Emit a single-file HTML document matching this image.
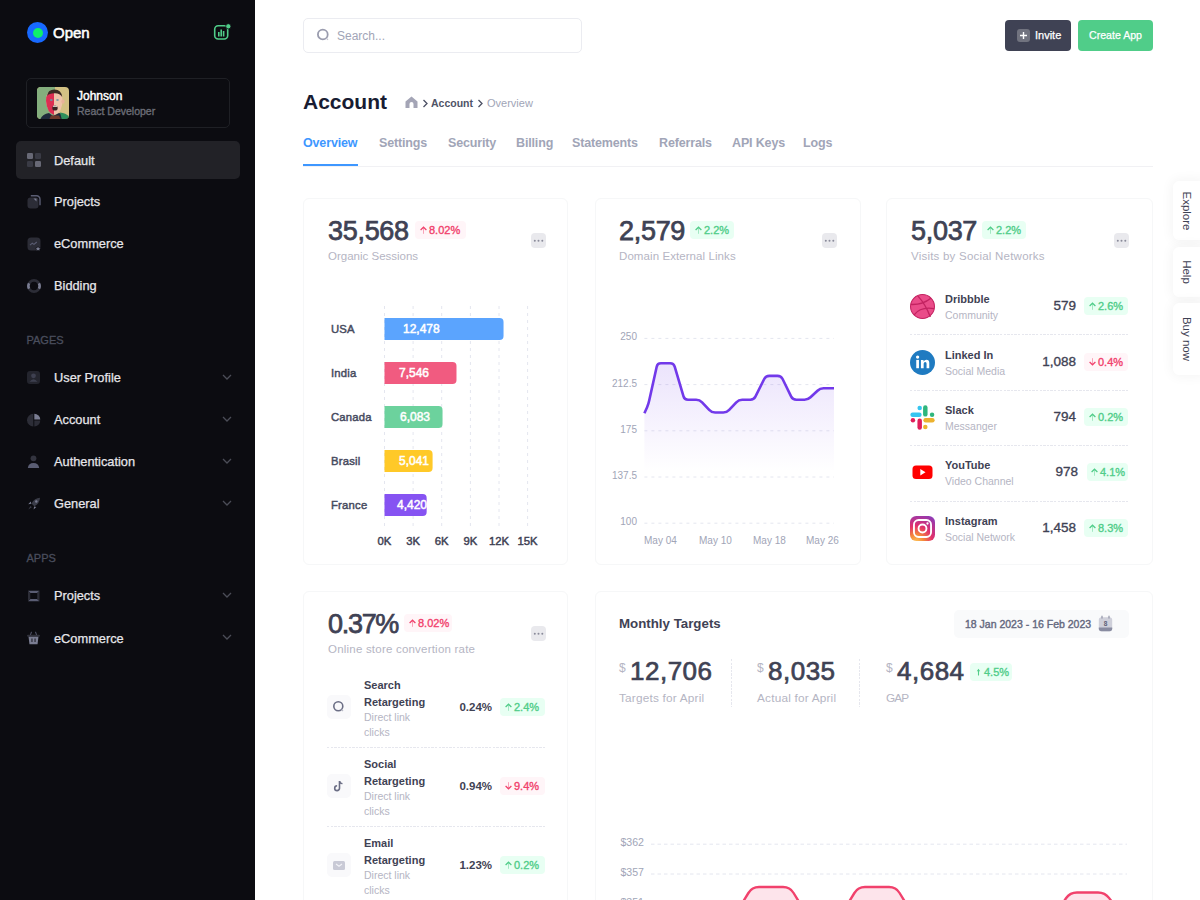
<!DOCTYPE html>
<html><head><meta charset="utf-8">
<style>
*{box-sizing:border-box;margin:0;padding:0}
html,body{width:1200px;height:900px;overflow:hidden;background:#fff;font-family:"Liberation Sans",sans-serif}
.a{position:absolute;white-space:nowrap}
#sb{position:absolute;left:0;top:0;width:255px;height:900px;background:#0c0c11}
.nav{position:absolute;left:54px;font-size:12.8px;color:#e6e6ea;line-height:16px;-webkit-text-stroke:0.25px #e6e6ea}
.ico{position:absolute;left:27px}
.chev{position:absolute;left:222px}
.sec{position:absolute;left:26.5px;font-size:11px;color:#4a4e5d;-webkit-text-stroke:0.3px #4a4e5d}

.tab{position:absolute;top:136px;font-size:12.5px;font-weight:bold;color:#a1a5b7;line-height:15px;letter-spacing:-0.15px}
.ftab{position:absolute;left:1173px;width:30px;background:#fff;border-radius:6px 0 0 6px;box-shadow:0 0 12px 2px rgba(0,0,0,0.045)}
.ftab span{position:absolute;left:50%;top:50%;transform:translate(-50%,-50%) rotate(90deg);font-size:11.5px;color:#3f4254;white-space:nowrap;margin-left:-1px}
.card{position:absolute;border:1px solid #f6f7f8;border-radius:6px;background:#fff}

.big{position:absolute;font-size:27px;font-weight:normal;color:#3f4254;line-height:30px;white-space:nowrap;letter-spacing:-0.3px;-webkit-text-stroke:0.75px #3f4254}
.lbl{position:absolute;font-size:11.5px;color:#b5b5c3;line-height:14px;white-space:nowrap}
</style></head><body>
<div id="sb">
  <!-- logo -->
  <div class="a" style="left:27px;top:22px;width:21px;height:21px;border-radius:50%;background:#1769ff"></div>
  <div class="a" style="left:33px;top:28px;width:10px;height:10px;border-radius:50%;background:#0fef6b"></div>
  <div class="a" style="left:53px;top:24px;font-size:15px;font-weight:normal;color:#fff;line-height:18px;-webkit-text-stroke:0.55px #fff">Open</div>
  <svg class="a" style="left:212px;top:22px" width="20" height="20" viewBox="0 0 20 20">
    <rect x="2.7" y="3.7" width="13" height="13.3" rx="3.5" fill="none" stroke="#50cd89" stroke-width="1.6"/>
    <rect x="6" y="10" width="1.6" height="4.5" fill="#50cd89"/>
    <rect x="8.4" y="7.5" width="1.6" height="7" fill="#50cd89"/>
    <rect x="10.8" y="9" width="1.6" height="5.5" fill="#50cd89"/>
    <circle cx="16.3" cy="4.3" r="2.6" fill="#50cd89" stroke="#0c0c11" stroke-width="0.8"/>
  </svg>
  <!-- user card -->
  <div class="a" style="left:26px;top:78px;width:203.5px;height:50px;border:1px solid #1f2025;border-radius:5px"></div>
  <svg class="a" style="left:37px;top:87px" width="32" height="32" viewBox="0 0 32 32">
    <defs><clipPath id="av"><rect width="32" height="32" rx="4"/></clipPath></defs>
    <g clip-path="url(#av)">
      <rect width="32" height="32" fill="#d3c184"/>
      <rect width="18" height="32" fill="#84ae7d"/>
      <path d="M9 14 Q9 3 17 3 Q25 3 25.5 13 Q25.5 25 18 28 Q10 26 9 14Z" fill="#eec3aa"/>
      <path d="M9 14 Q9 4 17 3.5 L17 28 Q10 26 9 14Z" fill="#dc2d52"/>
      <ellipse cx="26" cy="14.5" rx="1.6" ry="2.3" fill="#e8b39a"/>
      <path d="M10 9 Q11 2.5 17.5 2.6 Q24.5 3 25.2 10 Q23 6 17.5 6.2 Q12 6.3 10 9Z" fill="#3b2c25"/>
      <ellipse cx="14.3" cy="13" rx="1.3" ry="1" fill="#6e8ea0"/><ellipse cx="20.5" cy="13" rx="1.3" ry="1" fill="#7b98a6"/>
      <ellipse cx="18" cy="21" rx="2.7" ry="2.6" fill="#3a2424"/>
      <rect x="16" y="18.6" width="4" height="1.3" fill="#d9d4cc"/>
      <path d="M3 33 Q5 27 12 26 L16 29 L22 26 Q29 27 33 33Z" fill="#1f2a3c"/>
      <path d="M23 25.5 Q30 26 33 31 L33 33 L25 33Z" fill="#2f8f5c"/>
      <path d="M12 33 L14 28.5 L22 28.5 L24 33Z" fill="#6e3a2c"/>
    </g>
  </svg>
  <div class="a" style="left:77px;top:88.5px;font-size:12px;font-weight:normal;color:#fff;line-height:14px;-webkit-text-stroke:0.45px #fff">Johnson</div>
  <div class="a" style="left:77px;top:105px;font-size:10.5px;font-weight:normal;color:#6b6c76;line-height:13px;-webkit-text-stroke:0.35px #6b6c76">React Developer</div>

  <!-- active -->
  <div class="a" style="left:16px;top:141px;width:223.5px;height:38px;border-radius:5px;background:#222227"></div>
  <svg class="ico" style="top:153px" width="14" height="14" viewBox="0 0 14 14"><rect x="0" y="0" width="6" height="6" rx="1.2" fill="#686976"/><rect x="8" y="0" width="6" height="6" rx="1.2" fill="#3a3b45"/><rect x="0" y="8" width="6" height="6" rx="1.2" fill="#3a3b45"/><rect x="8" y="8" width="6" height="6" rx="1.2" fill="#686976"/></svg>
  <div class="nav" style="top:153px">Default</div>

  <svg class="ico" style="top:195px" width="14" height="14" viewBox="0 0 14 14"><rect x="0.5" y="2.5" width="11" height="11" rx="3" fill="#2c2d37"/><path d="M3.8 0.8 H9.5 a3.5 3.5 0 0 1 3.5 3.5 V10.2" fill="none" stroke="#5a5d73" stroke-width="1.4"/><path d="M6.5 3.5 H9.5 V6.5Z" fill="#7a7d92"/></svg>
  <div class="nav" style="top:194px">Projects</div>

  <svg class="ico" style="top:237px" width="14" height="14" viewBox="0 0 14 14"><rect x="0.5" y="0.5" width="13" height="13" rx="3.5" fill="#2c2d37"/><path d="M3 8.2 L5.3 6.2 L7 7.4 L9.8 5" fill="none" stroke="#5a5d73" stroke-width="1.1"/><path d="M11 9.2 L12.2 11 L13.8 11.3 L12.6 12.6 L12.8 14 L11 13.3 L9.2 14 L9.5 12.6 L8.3 11.3 L9.9 11Z" fill="#7a7d92" stroke="#0c0c11" stroke-width="0.6"/></svg>
  <div class="nav" style="top:235.5px">eCommerce</div>

  <svg class="ico" style="top:279px" width="14" height="14" viewBox="0 0 14 14"><circle cx="7" cy="7" r="5.6" fill="none" stroke="#2c2d37" stroke-width="2.6"/><path d="M2.1 4.3 A5.6 5.6 0 0 0 2.1 9.7 M11.9 4.3 A5.6 5.6 0 0 1 11.9 9.7" fill="none" stroke="#7a7d92" stroke-width="2.6"/></svg>
  <div class="nav" style="top:277.5px">Bidding</div>

  <div class="sec" style="top:334px">PAGES</div>

  <svg class="ico" style="top:371px" width="14" height="14" viewBox="0 0 14 14"><rect x="0" y="0" width="13" height="13" rx="3" fill="#24252e"/><circle cx="6.5" cy="4.8" r="2.4" fill="#3e4050"/><path d="M2.5 10.8 Q6.5 5.5 10.5 10.8Z" fill="#3e4050"/></svg>
  <div class="nav" style="top:370px">User Profile</div>
  <svg class="chev" style="top:373px" width="10" height="8" viewBox="0 0 10 8"><path d="M1 2 L5 6 L9 2" fill="none" stroke="#4b4d57" stroke-width="1.3"/></svg>

  <svg class="ico" style="top:413px" width="14" height="14" viewBox="0 0 14 14"><path d="M6.3 0.8 A6.3 6.3 0 1 0 6.3 13.4Z" fill="#2c2d37"/><path d="M7.3 0.8 A6 6 0 0 1 13.3 6.6 H7.3Z" fill="#7a7d92"/><path d="M7.3 7.6 H13.3 A6 6 0 0 1 7.3 13.4Z" fill="#2c2d37"/></svg>
  <div class="nav" style="top:412px">Account</div>
  <svg class="chev" style="top:415px" width="10" height="8" viewBox="0 0 10 8"><path d="M1 2 L5 6 L9 2" fill="none" stroke="#4b4d57" stroke-width="1.3"/></svg>

  <svg class="ico" style="top:455px" width="14" height="14" viewBox="0 0 14 14"><circle cx="6.5" cy="3.3" r="2.9" fill="#33343f"/><path d="M0.8 13 Q1.5 8 6.5 8 Q11.5 8 12.2 13Z" fill="#5a5d73"/></svg>
  <div class="nav" style="top:453.5px">Authentication</div>
  <svg class="chev" style="top:457px" width="10" height="8" viewBox="0 0 10 8"><path d="M1 2 L5 6 L9 2" fill="none" stroke="#4b4d57" stroke-width="1.3"/></svg>

  <svg class="ico" style="top:497px" width="14" height="14" viewBox="0 0 14 14"><path d="M13 0.8 Q7.5 1 4.5 6.5 L7.3 9.3 Q12.8 6.5 13 0.8Z" fill="#3a3c48"/><circle cx="9.3" cy="4.5" r="1.2" fill="#7a7d92"/><path d="M4.3 6.7 L1.2 7.2 L3.8 4.5Z" fill="#7a7d92"/><path d="M7.1 9.5 L6.6 12.6 L9.3 10Z" fill="#7a7d92"/><path d="M3.5 9 L1.3 12.5 L4.8 10.3Z" fill="#3a3c48"/></svg>
  <div class="nav" style="top:495.5px">General</div>
  <svg class="chev" style="top:499px" width="10" height="8" viewBox="0 0 10 8"><path d="M1 2 L5 6 L9 2" fill="none" stroke="#4b4d57" stroke-width="1.3"/></svg>

  <div class="sec" style="top:552px">APPS</div>

  <svg class="ico" style="top:589px" width="14" height="14" viewBox="0 0 14 14"><path d="M1 1.8 H12.5 L10.2 4 H3.3Z" fill="#5a5d73"/><path d="M1 12.2 H12.5 L10.2 10 H3.3Z" fill="#5a5d73"/><path d="M1 1.8 L3.3 4 V10 L1 12.2Z" fill="#2c2d37"/><path d="M12.5 1.8 L10.2 4 V10 L12.5 12.2Z" fill="#2c2d37"/></svg>
  <div class="nav" style="top:588px">Projects</div>
  <svg class="chev" style="top:591px" width="10" height="8" viewBox="0 0 10 8"><path d="M1 2 L5 6 L9 2" fill="none" stroke="#4b4d57" stroke-width="1.3"/></svg>

  <svg class="ico" style="top:631px" width="14" height="14" viewBox="0 0 14 14"><path d="M4.5 0.8 L3.3 4.5 M8.5 0.8 L9.7 4.5" stroke="#5a5d73" stroke-width="1"/><rect x="0" y="3.8" width="13" height="2" rx="1" fill="#30313b"/><path d="M1.5 5.8 H11.5 L10.5 13.3 H2.5Z" fill="#7a7d92"/><rect x="4.3" y="7.5" width="1.3" height="3.5" fill="#30313b"/><rect x="7.4" y="7.5" width="1.3" height="3.5" fill="#30313b"/></svg>
  <div class="nav" style="top:631px">eCommerce</div>
  <svg class="chev" style="top:633px" width="10" height="8" viewBox="0 0 10 8"><path d="M1 2 L5 6 L9 2" fill="none" stroke="#4b4d57" stroke-width="1.3"/></svg>
</div>

<div id="main">
  <!-- search -->
  <div class="a" style="left:303px;top:18px;width:279px;height:35px;border:1px solid #ebecf1;border-radius:5px"></div>
  <svg class="a" style="left:316px;top:28px" width="14" height="14" viewBox="0 0 14 14">
    <circle cx="6.8" cy="6.5" r="4.9" fill="none" stroke="#9a9cae" stroke-width="1.8"/>
    <path d="M10.5 10.3 L12 11.8" stroke="#c4c5d0" stroke-width="1.2"/>
  </svg>
  <div class="a" style="left:337px;top:29px;font-size:12px;color:#a1a5b7;line-height:14px">Search...</div>

  <!-- buttons -->
  <div class="a" style="left:1005px;top:20px;width:66px;height:31px;border-radius:4px;background:#3f4254"></div>
  <div class="a" style="left:1017px;top:29px;width:13px;height:13px;border-radius:3px;background:#71737f"></div>
  <svg class="a" style="left:1017px;top:29px" width="13" height="13" viewBox="0 0 13 13"><path d="M6.5 3 V10 M3 6.5 H10" stroke="#fff" stroke-width="1.4"/></svg>
  <div class="a" style="left:1035px;top:29px;font-size:11px;color:#fff;line-height:13px;-webkit-text-stroke:0.25px #fff">Invite</div>
  <div class="a" style="left:1078px;top:20px;width:75px;height:31px;border-radius:4px;background:#50cd89"></div>
  <div class="a" style="left:1089px;top:29px;font-size:10.6px;color:#fff;line-height:13px;-webkit-text-stroke:0.25px #fff">Create App</div>

  <!-- title -->
  <div class="a" style="left:303px;top:90px;font-size:21px;font-weight:bold;color:#181c32;line-height:24px">Account</div>
  <svg class="a" style="left:405px;top:96px" width="13" height="12" viewBox="0 0 13 12">
    <path d="M6.5 0.5 L12.5 5.5 V12 H8.5 V8 a2 2 0 0 0 -4 0 V12 H0.5 V5.5Z" fill="#a4a5b6"/>
  </svg>
  <svg class="a" style="left:422px;top:99px" width="7" height="9" viewBox="0 0 7 9"><path d="M1.5 1 L5 4.5 L1.5 8" fill="none" stroke="#4b5064" stroke-width="1.3"/></svg>
  <div class="a" style="left:431px;top:97px;font-size:10.5px;font-weight:bold;color:#4f5366;line-height:13px">Account</div>
  <svg class="a" style="left:477px;top:99px" width="7" height="9" viewBox="0 0 7 9"><path d="M1.5 1 L5 4.5 L1.5 8" fill="none" stroke="#4b5064" stroke-width="1.3"/></svg>
  <div class="a" style="left:487px;top:97px;font-size:11px;color:#a1a5b7;line-height:13px">Overview</div>

  <!-- tabs -->
  <div class="a" style="left:303px;top:166px;width:850px;height:1px;background:#f1f1f4"></div>
  <div class="a" style="left:303px;top:164px;width:55px;height:2px;background:#3e97ff"></div>
  <div class="tab" style="left:303px;color:#3e97ff">Overview</div>
  <div class="tab" style="left:379px">Settings</div>
  <div class="tab" style="left:448px">Security</div>
  <div class="tab" style="left:516px">Billing</div>
  <div class="tab" style="left:572px">Statements</div>
  <div class="tab" style="left:659px">Referrals</div>
  <div class="tab" style="left:732px">API Keys</div>
  <div class="tab" style="left:803px">Logs</div>

  <!-- floating tabs -->
  <div class="ftab" style="top:181px;height:59px"><span>Explore</span></div>
  <div class="ftab" style="top:247px;height:50px"><span>Help</span></div>
  <div class="ftab" style="top:303px;height:72px"><span>Buy now</span></div>

  <!-- cards -->
  <div class="card" style="left:303px;top:198px;width:265px;height:367px"></div>
  <div class="card" style="left:595px;top:198px;width:266px;height:367px"></div>
  <div class="card" style="left:886px;top:198px;width:267px;height:367px"></div>
  <div class="card" style="left:303px;top:591px;width:265px;height:340px"></div>
  <div class="card" style="left:595px;top:591px;width:558px;height:340px"></div>
<div class="big" style="left:328px;top:216px">35,568</div>
  <div class="a" style="left:415px;top:221px;width:51px;height:18px;border-radius:4px;background:#fff5f8"></div>
  <svg class="a" style="left:420px;top:226px" width="7" height="8" viewBox="0 0 7 8"><path d="M3.5 7.8 V1.5" stroke="#f1416c" stroke-opacity="0.45" stroke-width="1"/><path d="M0.6 4 L3.5 1.2 L6.4 4" fill="none" stroke="#f1416c" stroke-width="1.25"/></svg>
  <div class="a" style="left:429px;top:224px;font-size:11px;font-weight:normal;color:#f1416c;line-height:13px;-webkit-text-stroke:0.35px #f1416c">8.02%</div>
  <div class="lbl" style="left:328px;top:249px">Organic Sessions</div><div class="a" style="left:531px;top:233px;width:15px;height:15px;border-radius:4px;background:#e9e9ed"></div>
  <svg class="a" style="left:531px;top:233px" width="15" height="15" viewBox="0 0 15 15"><circle cx="3.8" cy="7.7" r="1" fill="#8a8b9a"/><circle cx="7.5" cy="7.7" r="1" fill="#8a8b9a"/><circle cx="11.3" cy="7.7" r="1" fill="#8a8b9a"/></svg><svg class="a" style="left:0;top:0" width="1200" height="900" viewBox="0 0 1200 900"><line x1="384.5" y1="306" x2="384.5" y2="530" stroke="#e4e6ef" stroke-width="1" stroke-dasharray="3 4"/><line x1="413.1" y1="306" x2="413.1" y2="530" stroke="#e4e6ef" stroke-width="1" stroke-dasharray="3 4"/><line x1="441.7" y1="306" x2="441.7" y2="530" stroke="#e4e6ef" stroke-width="1" stroke-dasharray="3 4"/><line x1="470.4" y1="306" x2="470.4" y2="530" stroke="#e4e6ef" stroke-width="1" stroke-dasharray="3 4"/><line x1="499" y1="306" x2="499" y2="530" stroke="#e4e6ef" stroke-width="1" stroke-dasharray="3 4"/><line x1="527.6" y1="306" x2="527.6" y2="530" stroke="#e4e6ef" stroke-width="1" stroke-dasharray="3 4"/><path d="M384.5 318 H499.54012 a4 4 0 0 1 4 4 V336 a4 4 0 0 1 -4 4 H384.5Z" fill="#5ba4fe"/><path d="M384.5 362 H452.48884 a4 4 0 0 1 4 4 V380 a4 4 0 0 1 -4 4 H384.5Z" fill="#f15b80"/><path d="M384.5 406 H438.53182 a4 4 0 0 1 4 4 V424 a4 4 0 0 1 -4 4 H384.5Z" fill="#6cd29d"/><path d="M384.5 450 H428.59114 a4 4 0 0 1 4 4 V468 a4 4 0 0 1 -4 4 H384.5Z" fill="#ffc928"/><path d="M384.5 494 H422.6668 a4 4 0 0 1 4 4 V512 a4 4 0 0 1 -4 4 H384.5Z" fill="#8653f2"/></svg><div class="a" style="left:384.5px;top:318px;width:119.04011999999999px;height:22px;overflow:hidden"><div class="a" style="left:18.5px;top:4px;font-size:12px;font-weight:normal;color:#fff;line-height:14px;-webkit-text-stroke:0.5px #fff">12,478</div></div><div class="a" style="left:331px;top:323px;font-size:11.3px;font-weight:normal;color:#3f4254;line-height:13px;letter-spacing:0.2px;color:#464a5e;-webkit-text-stroke:0.45px #464a5e">USA</div><div class="a" style="left:384.5px;top:362px;width:71.98884px;height:22px;overflow:hidden"><div class="a" style="left:14.5px;top:4px;font-size:12px;font-weight:normal;color:#fff;line-height:14px;-webkit-text-stroke:0.5px #fff">7,546</div></div><div class="a" style="left:331px;top:367px;font-size:11.3px;font-weight:normal;color:#3f4254;line-height:13px;letter-spacing:0.2px;color:#464a5e;-webkit-text-stroke:0.45px #464a5e">India</div><div class="a" style="left:384.5px;top:406px;width:58.03182px;height:22px;overflow:hidden"><div class="a" style="left:15.5px;top:4px;font-size:12px;font-weight:normal;color:#fff;line-height:14px;-webkit-text-stroke:0.5px #fff">6,083</div></div><div class="a" style="left:331px;top:411px;font-size:11.3px;font-weight:normal;color:#3f4254;line-height:13px;letter-spacing:0.2px;color:#464a5e;-webkit-text-stroke:0.45px #464a5e">Canada</div><div class="a" style="left:384.5px;top:450px;width:48.09114px;height:22px;overflow:hidden"><div class="a" style="left:14.5px;top:4px;font-size:12px;font-weight:normal;color:#fff;line-height:14px;-webkit-text-stroke:0.5px #fff">5,041</div></div><div class="a" style="left:331px;top:455px;font-size:11.3px;font-weight:normal;color:#3f4254;line-height:13px;letter-spacing:0.2px;color:#464a5e;-webkit-text-stroke:0.45px #464a5e">Brasil</div><div class="a" style="left:384.5px;top:494px;width:42.1668px;height:22px;overflow:hidden"><div class="a" style="left:12.5px;top:4px;font-size:12px;font-weight:normal;color:#fff;line-height:14px;-webkit-text-stroke:0.5px #fff">4,420</div></div><div class="a" style="left:331px;top:499px;font-size:11.3px;font-weight:normal;color:#3f4254;line-height:13px;letter-spacing:0.2px;color:#464a5e;-webkit-text-stroke:0.45px #464a5e">France</div><div class="a" style="left:364.5px;width:40px;text-align:center;top:534.5px;font-size:11.3px;font-weight:normal;color:#3f4254;line-height:13px;-webkit-text-stroke:0.45px #3f4254">0K</div><div class="a" style="left:393.1px;width:40px;text-align:center;top:534.5px;font-size:11.3px;font-weight:normal;color:#3f4254;line-height:13px;-webkit-text-stroke:0.45px #3f4254">3K</div><div class="a" style="left:421.7px;width:40px;text-align:center;top:534.5px;font-size:11.3px;font-weight:normal;color:#3f4254;line-height:13px;-webkit-text-stroke:0.45px #3f4254">6K</div><div class="a" style="left:450.4px;width:40px;text-align:center;top:534.5px;font-size:11.3px;font-weight:normal;color:#3f4254;line-height:13px;-webkit-text-stroke:0.45px #3f4254">9K</div><div class="a" style="left:479px;width:40px;text-align:center;top:534.5px;font-size:11.3px;font-weight:normal;color:#3f4254;line-height:13px;-webkit-text-stroke:0.45px #3f4254">12K</div><div class="a" style="left:507.6px;width:40px;text-align:center;top:534.5px;font-size:11.3px;font-weight:normal;color:#3f4254;line-height:13px;-webkit-text-stroke:0.45px #3f4254">15K</div>
<div class="big" style="left:619px;top:216px">2,579</div>
  <div class="a" style="left:690px;top:221px;width:44px;height:18px;border-radius:4px;background:#e8fff3"></div>
  <svg class="a" style="left:695px;top:226px" width="7" height="8" viewBox="0 0 7 8"><path d="M3.5 7.8 V1.5" stroke="#50cd89" stroke-opacity="0.45" stroke-width="1"/><path d="M0.6 4 L3.5 1.2 L6.4 4" fill="none" stroke="#50cd89" stroke-width="1.25"/></svg>
  <div class="a" style="left:704px;top:224px;font-size:11px;font-weight:normal;color:#50cd89;line-height:13px;-webkit-text-stroke:0.35px #50cd89">2.2%</div>
  <div class="lbl" style="letter-spacing:0.08px;left:619px;top:249px">Domain External Links</div><div class="a" style="left:822px;top:233px;width:15px;height:15px;border-radius:4px;background:#e9e9ed"></div>
  <svg class="a" style="left:822px;top:233px" width="15" height="15" viewBox="0 0 15 15"><circle cx="3.8" cy="7.7" r="1" fill="#8a8b9a"/><circle cx="7.5" cy="7.7" r="1" fill="#8a8b9a"/><circle cx="11.3" cy="7.7" r="1" fill="#8a8b9a"/></svg><svg class="a" style="left:0;top:0" width="1200" height="900" viewBox="0 0 1200 900"><defs><linearGradient id="lg" x1="0" y1="0" x2="0" y2="1"><stop offset="0" stop-color="#7239ea" stop-opacity="0.14"/><stop offset="1" stop-color="#7239ea" stop-opacity="0"/></linearGradient></defs><line x1="644.4" y1="338.4" x2="834" y2="338.4" stroke="#e4e6ef" stroke-width="1" stroke-dasharray="3 4"/><line x1="644.4" y1="384.6" x2="834" y2="384.6" stroke="#e4e6ef" stroke-width="1" stroke-dasharray="3 4"/><line x1="644.4" y1="430.8" x2="834" y2="430.8" stroke="#e4e6ef" stroke-width="1" stroke-dasharray="3 4"/><line x1="644.4" y1="477" x2="834" y2="477" stroke="#e4e6ef" stroke-width="1" stroke-dasharray="3 4"/><line x1="644.4" y1="523.2" x2="834" y2="523.2" stroke="#e4e6ef" stroke-width="1" stroke-dasharray="3 4"/><path d="M644.4 413.2 L647.1 407.2 Q648.5 404 649.2 400.6 L656.7 366.7 Q657.4 363.3 660.9 363.3 L670.2 363.3 Q673.7 363.3 674.7 366.7 L683.5 396.3 Q684.5 399.7 688.0 399.7 L696.2 399.7 Q699.7 399.7 702.1 402.3 L709.2 409.9 Q711.6 412.5 715.1 412.5 L723.3 412.5 Q726.8 412.5 729.2 409.9 L736.3 402.3 Q738.7 399.7 742.2 399.7 L750.3 399.7 Q753.8 399.7 755.4 396.6 L764.2 379.0 Q765.8 375.9 769.3 375.9 L777.5 375.9 Q781 375.9 782.6 379.0 L791.2 396.6 Q792.8 399.7 796.3 399.7 L804.5 399.7 Q808 399.7 810.5 397.3 L817.5 390.7 Q820 388.3 823.5 388.3 L834 388.3 L834 472 L644.4 472Z" fill="url(#lg)"/><path d="M644.4 413.2 L647.1 407.2 Q648.5 404 649.2 400.6 L656.7 366.7 Q657.4 363.3 660.9 363.3 L670.2 363.3 Q673.7 363.3 674.7 366.7 L683.5 396.3 Q684.5 399.7 688.0 399.7 L696.2 399.7 Q699.7 399.7 702.1 402.3 L709.2 409.9 Q711.6 412.5 715.1 412.5 L723.3 412.5 Q726.8 412.5 729.2 409.9 L736.3 402.3 Q738.7 399.7 742.2 399.7 L750.3 399.7 Q753.8 399.7 755.4 396.6 L764.2 379.0 Q765.8 375.9 769.3 375.9 L777.5 375.9 Q781 375.9 782.6 379.0 L791.2 396.6 Q792.8 399.7 796.3 399.7 L804.5 399.7 Q808 399.7 810.5 397.3 L817.5 390.7 Q820 388.3 823.5 388.3 L834 388.3" fill="none" stroke="#7239ea" stroke-width="2.6" stroke-linejoin="round"/></svg><div class="a" style="left:597px;width:40px;text-align:right;top:331.4px;font-size:10px;color:#a1a5b7;line-height:12px">250</div><div class="a" style="left:597px;width:40px;text-align:right;top:377.6px;font-size:10px;color:#a1a5b7;line-height:12px">212.5</div><div class="a" style="left:597px;width:40px;text-align:right;top:423.8px;font-size:10px;color:#a1a5b7;line-height:12px">175</div><div class="a" style="left:597px;width:40px;text-align:right;top:470px;font-size:10px;color:#a1a5b7;line-height:12px">137.5</div><div class="a" style="left:597px;width:40px;text-align:right;top:516.2px;font-size:10px;color:#a1a5b7;line-height:12px">100</div><div class="a" style="left:644px;top:534.5px;font-size:10px;color:#a1a5b7;line-height:12px">May 04</div><div class="a" style="left:699px;top:534.5px;font-size:10px;color:#a1a5b7;line-height:12px">May 10</div><div class="a" style="left:753px;top:534.5px;font-size:10px;color:#a1a5b7;line-height:12px">May 18</div><div class="a" style="left:806px;top:534.5px;font-size:10px;color:#a1a5b7;line-height:12px">May 26</div><div class="big" style="left:911px;top:216px">5,037</div>
  <div class="a" style="left:982px;top:221px;width:44px;height:18px;border-radius:4px;background:#e8fff3"></div>
  <svg class="a" style="left:987px;top:226px" width="7" height="8" viewBox="0 0 7 8"><path d="M3.5 7.8 V1.5" stroke="#50cd89" stroke-opacity="0.45" stroke-width="1"/><path d="M0.6 4 L3.5 1.2 L6.4 4" fill="none" stroke="#50cd89" stroke-width="1.25"/></svg>
  <div class="a" style="left:996px;top:224px;font-size:11px;font-weight:normal;color:#50cd89;line-height:13px;-webkit-text-stroke:0.35px #50cd89">2.2%</div>
  <div class="lbl" style="letter-spacing:0.22px;left:911px;top:249px">Visits by Social Networks</div><div class="a" style="left:1114px;top:233px;width:15px;height:15px;border-radius:4px;background:#e9e9ed"></div>
  <svg class="a" style="left:1114px;top:233px" width="15" height="15" viewBox="0 0 15 15"><circle cx="3.8" cy="7.7" r="1" fill="#8a8b9a"/><circle cx="7.5" cy="7.7" r="1" fill="#8a8b9a"/><circle cx="11.3" cy="7.7" r="1" fill="#8a8b9a"/></svg><div class="a" style="left:945px;top:292.5px;font-size:11px;font-weight:bold;color:#3f4254;line-height:13px">Dribbble</div><div class="a" style="left:945px;top:308.5px;font-size:10.5px;color:#b5b5c3;line-height:13px">Community</div><div class="a" style="left:1000px;width:76px;text-align:right;top:298px;font-size:13.5px;font-weight:normal;color:#3f4254;line-height:16px;-webkit-text-stroke:0.35px #3f4254">579</div><div class="a" style="left:1084px;top:297px;width:44px;height:18px;border-radius:4px;background:#e8fff3"></div>
  <svg class="a" style="left:1089px;top:302px" width="7" height="8" viewBox="0 0 7 8"><path d="M3.5 7.8 V1.5" stroke="#50cd89" stroke-opacity="0.45" stroke-width="1"/><path d="M0.6 4 L3.5 1.2 L6.4 4" fill="none" stroke="#50cd89" stroke-width="1.25"/></svg>
  <div class="a" style="left:1098px;top:300px;font-size:11px;font-weight:normal;color:#50cd89;line-height:13px;-webkit-text-stroke:0.35px #50cd89">2.6%</div><div class="a" style="left:945px;top:348.5px;font-size:11px;font-weight:bold;color:#3f4254;line-height:13px">Linked In</div><div class="a" style="left:945px;top:364.5px;font-size:10.5px;color:#b5b5c3;line-height:13px">Social Media</div><div class="a" style="left:1000px;width:76px;text-align:right;top:354px;font-size:13.5px;font-weight:normal;color:#3f4254;line-height:16px;-webkit-text-stroke:0.35px #3f4254">1,088</div><div class="a" style="left:1084px;top:353px;width:44px;height:18px;border-radius:4px;background:#fff5f8"></div>
  <svg class="a" style="left:1089px;top:358px" width="7" height="8" viewBox="0 0 7 8"><path d="M3.5 0.2 V6.5" stroke="#f1416c" stroke-opacity="0.45" stroke-width="1"/><path d="M0.6 4 L3.5 6.8 L6.4 4" fill="none" stroke="#f1416c" stroke-width="1.25"/></svg>
  <div class="a" style="left:1098px;top:356px;font-size:11px;font-weight:normal;color:#f1416c;line-height:13px;-webkit-text-stroke:0.35px #f1416c">0.4%</div><div class="a" style="left:945px;top:403.5px;font-size:11px;font-weight:bold;color:#3f4254;line-height:13px">Slack</div><div class="a" style="left:945px;top:419.5px;font-size:10.5px;color:#b5b5c3;line-height:13px">Messanger</div><div class="a" style="left:1000px;width:76px;text-align:right;top:409px;font-size:13.5px;font-weight:normal;color:#3f4254;line-height:16px;-webkit-text-stroke:0.35px #3f4254">794</div><div class="a" style="left:1084px;top:408px;width:44px;height:18px;border-radius:4px;background:#e8fff3"></div>
  <svg class="a" style="left:1089px;top:413px" width="7" height="8" viewBox="0 0 7 8"><path d="M3.5 7.8 V1.5" stroke="#50cd89" stroke-opacity="0.45" stroke-width="1"/><path d="M0.6 4 L3.5 1.2 L6.4 4" fill="none" stroke="#50cd89" stroke-width="1.25"/></svg>
  <div class="a" style="left:1098px;top:411px;font-size:11px;font-weight:normal;color:#50cd89;line-height:13px;-webkit-text-stroke:0.35px #50cd89">0.2%</div><div class="a" style="left:945px;top:458.5px;font-size:11px;font-weight:bold;color:#3f4254;line-height:13px">YouTube</div><div class="a" style="left:945px;top:474.5px;font-size:10.5px;color:#b5b5c3;line-height:13px">Video Channel</div><div class="a" style="left:1002px;width:76px;text-align:right;top:464px;font-size:13.5px;font-weight:normal;color:#3f4254;line-height:16px;-webkit-text-stroke:0.35px #3f4254">978</div><div class="a" style="left:1086.5px;top:463px;width:41.5px;height:18px;border-radius:4px;background:#e8fff3"></div>
  <svg class="a" style="left:1091px;top:468px" width="7" height="8" viewBox="0 0 7 8"><path d="M3.5 7.8 V1.5" stroke="#50cd89" stroke-opacity="0.45" stroke-width="1"/><path d="M0.6 4 L3.5 1.2 L6.4 4" fill="none" stroke="#50cd89" stroke-width="1.25"/></svg>
  <div class="a" style="left:1100px;top:466px;font-size:11px;font-weight:normal;color:#50cd89;line-height:13px;-webkit-text-stroke:0.35px #50cd89">4.1%</div><div class="a" style="left:945px;top:514.5px;font-size:11px;font-weight:bold;color:#3f4254;line-height:13px">Instagram</div><div class="a" style="left:945px;top:530.5px;font-size:10.5px;color:#b5b5c3;line-height:13px">Social Network</div><div class="a" style="left:1000px;width:76px;text-align:right;top:520px;font-size:13.5px;font-weight:normal;color:#3f4254;line-height:16px;-webkit-text-stroke:0.35px #3f4254">1,458</div><div class="a" style="left:1084px;top:519px;width:44px;height:18px;border-radius:4px;background:#e8fff3"></div>
  <svg class="a" style="left:1089px;top:524px" width="7" height="8" viewBox="0 0 7 8"><path d="M3.5 7.8 V1.5" stroke="#50cd89" stroke-opacity="0.45" stroke-width="1"/><path d="M0.6 4 L3.5 1.2 L6.4 4" fill="none" stroke="#50cd89" stroke-width="1.25"/></svg>
  <div class="a" style="left:1098px;top:522px;font-size:11px;font-weight:normal;color:#50cd89;line-height:13px;-webkit-text-stroke:0.35px #50cd89">8.3%</div><div class="a" style="left:910px;top:334px;width:218px;height:1px;background:repeating-linear-gradient(90deg,#e6e7ee 0 2.4px,transparent 2.4px 3.6px)"></div><div class="a" style="left:910px;top:389.5px;width:218px;height:1px;background:repeating-linear-gradient(90deg,#e6e7ee 0 2.4px,transparent 2.4px 3.6px)"></div><div class="a" style="left:910px;top:445px;width:218px;height:1px;background:repeating-linear-gradient(90deg,#e6e7ee 0 2.4px,transparent 2.4px 3.6px)"></div><div class="a" style="left:910px;top:500.5px;width:218px;height:1px;background:repeating-linear-gradient(90deg,#e6e7ee 0 2.4px,transparent 2.4px 3.6px)"></div><svg class="a" style="left:910px;top:294px" width="25" height="25" viewBox="0 0 24 24">
  <circle cx="12" cy="12" r="11.5" fill="#ea4c89" stroke="#c32361" stroke-width="1"/>
  <g fill="none" stroke="#c32361" stroke-width="1.3">
   <path d="M7.5 1.8 Q15 10 19.5 22"/><path d="M0.8 10 Q12 10.5 20 4"/><path d="M4 20 Q10 12 23 14"/>
  </g></svg>
<svg class="a" style="left:910px;top:350px" width="25" height="25" viewBox="0 0 24 24">
  <circle cx="12" cy="12" r="12" fill="#1f7bc1"/>
  <rect x="6" y="9.5" width="2.6" height="8" fill="#fff"/><circle cx="7.3" cy="6.8" r="1.6" fill="#fff"/>
  <path d="M10.5 9.5 H13 V11 Q14 9.3 15.8 9.3 Q18.5 9.3 18.5 12.5 V17.5 H15.9 V13 Q15.9 11.5 14.6 11.5 Q13.1 11.5 13.1 13.2 V17.5 H10.5Z" fill="#fff"/>
</svg>
<svg class="a" style="left:910px;top:405px" width="25" height="25" viewBox="0 0 24 24">
  <g stroke-linecap="round" stroke-width="4.3">
   <path d="M9.3 2.8 V2.8" stroke="#36c5f0"/><path d="M2.5 9.3 H9" stroke="#36c5f0"/>
   <path d="M14.7 2.5 V9" stroke="#2eb67d"/><path d="M21.2 9.3 V9.3" stroke="#2eb67d"/>
   <path d="M21.5 14.7 H15" stroke="#ecb22e"/><path d="M14.7 21.2 V21.2" stroke="#ecb22e"/>
   <path d="M9.3 21.5 V15" stroke="#e01e5a"/><path d="M2.8 14.7 V14.7" stroke="#e01e5a"/>
  </g></svg>
<svg class="a" style="left:912px;top:464px" width="21" height="16" viewBox="0 0 21 16">
  <rect x="0.5" y="1.5" width="20" height="13.5" rx="3.5" fill="#f00"/><path d="M8.3 5 L13.5 8.2 L8.3 11.4Z" fill="#fff"/>
</svg>
<svg class="a" style="left:910px;top:516px" width="25" height="25" viewBox="0 0 24 24">
  <defs><radialGradient id="ig" cx="0.25" cy="1.05" r="1.2"><stop offset="0" stop-color="#fdc55a"/><stop offset="0.25" stop-color="#f58a3a"/><stop offset="0.55" stop-color="#e1306c"/><stop offset="1" stop-color="#8a3ab9"/></radialGradient></defs>
  <rect x="0" y="0" width="24" height="24" rx="6" fill="url(#ig)"/>
  <rect x="3.8" y="3.8" width="16.4" height="16.4" rx="4.5" fill="none" stroke="#fff" stroke-width="1.8"/>
  <circle cx="12" cy="12" r="3.8" fill="none" stroke="#fff" stroke-width="1.8"/>
  <circle cx="16.8" cy="7.2" r="1.1" fill="#fff"/>
</svg>
<div class="big" style="left:328px;top:609px;letter-spacing:-1.3px">0.37%</div>
  <div class="a" style="left:404px;top:614px;width:48px;height:18px;border-radius:4px;background:#fff5f8"></div>
  <svg class="a" style="left:409px;top:619px" width="7" height="8" viewBox="0 0 7 8"><path d="M3.5 7.8 V1.5" stroke="#f1416c" stroke-opacity="0.45" stroke-width="1"/><path d="M0.6 4 L3.5 1.2 L6.4 4" fill="none" stroke="#f1416c" stroke-width="1.25"/></svg>
  <div class="a" style="left:418px;top:617px;font-size:11px;font-weight:normal;color:#f1416c;line-height:13px;-webkit-text-stroke:0.35px #f1416c">8.02%</div>
  <div class="lbl" style="letter-spacing:0.21px;left:328px;top:642px">Online store convertion rate</div><div class="a" style="left:531px;top:626px;width:15px;height:15px;border-radius:4px;background:#e9e9ed"></div>
  <svg class="a" style="left:531px;top:626px" width="15" height="15" viewBox="0 0 15 15"><circle cx="3.8" cy="7.7" r="1" fill="#8a8b9a"/><circle cx="7.5" cy="7.7" r="1" fill="#8a8b9a"/><circle cx="11.3" cy="7.7" r="1" fill="#8a8b9a"/></svg><div class="a" style="left:327px;top:695px;width:24px;height:24px;border-radius:5px;background:#f9f9fb"></div><div class="a" style="left:364px;top:677px;font-size:11px;font-weight:bold;color:#3f4254;line-height:17px">Search<br>Retargeting</div><div class="a" style="left:364px;top:710px;font-size:10.5px;color:#b5b5c3;line-height:15px">Direct link<br>clicks</div><div class="a" style="left:420px;width:72px;text-align:right;top:700px;font-size:11.5px;font-weight:bold;color:#3f4254;line-height:14px">0.24%</div><div class="a" style="left:500px;top:698px;width:45px;height:18px;border-radius:4px;background:#e8fff3"></div>
  <svg class="a" style="left:505px;top:703px" width="7" height="8" viewBox="0 0 7 8"><path d="M3.5 7.8 V1.5" stroke="#50cd89" stroke-opacity="0.45" stroke-width="1"/><path d="M0.6 4 L3.5 1.2 L6.4 4" fill="none" stroke="#50cd89" stroke-width="1.25"/></svg>
  <div class="a" style="left:514px;top:701px;font-size:11px;font-weight:normal;color:#50cd89;line-height:13px;-webkit-text-stroke:0.35px #50cd89">2.4%</div><div class="a" style="left:327px;top:774px;width:24px;height:24px;border-radius:5px;background:#f9f9fb"></div><div class="a" style="left:364px;top:756px;font-size:11px;font-weight:bold;color:#3f4254;line-height:17px">Social<br>Retargeting</div><div class="a" style="left:364px;top:789px;font-size:10.5px;color:#b5b5c3;line-height:15px">Direct link<br>clicks</div><div class="a" style="left:420px;width:72px;text-align:right;top:779px;font-size:11.5px;font-weight:bold;color:#3f4254;line-height:14px">0.94%</div><div class="a" style="left:500px;top:777px;width:45px;height:18px;border-radius:4px;background:#fff5f8"></div>
  <svg class="a" style="left:505px;top:782px" width="7" height="8" viewBox="0 0 7 8"><path d="M3.5 0.2 V6.5" stroke="#f1416c" stroke-opacity="0.45" stroke-width="1"/><path d="M0.6 4 L3.5 6.8 L6.4 4" fill="none" stroke="#f1416c" stroke-width="1.25"/></svg>
  <div class="a" style="left:514px;top:780px;font-size:11px;font-weight:normal;color:#f1416c;line-height:13px;-webkit-text-stroke:0.35px #f1416c">9.4%</div><div class="a" style="left:327px;top:853px;width:24px;height:24px;border-radius:5px;background:#f9f9fb"></div><div class="a" style="left:364px;top:835px;font-size:11px;font-weight:bold;color:#3f4254;line-height:17px">Email<br>Retargeting</div><div class="a" style="left:364px;top:868px;font-size:10.5px;color:#b5b5c3;line-height:15px">Direct link<br>clicks</div><div class="a" style="left:420px;width:72px;text-align:right;top:858px;font-size:11.5px;font-weight:bold;color:#3f4254;line-height:14px">1.23%</div><div class="a" style="left:500px;top:856px;width:45px;height:18px;border-radius:4px;background:#e8fff3"></div>
  <svg class="a" style="left:505px;top:861px" width="7" height="8" viewBox="0 0 7 8"><path d="M3.5 7.8 V1.5" stroke="#50cd89" stroke-opacity="0.45" stroke-width="1"/><path d="M0.6 4 L3.5 1.2 L6.4 4" fill="none" stroke="#50cd89" stroke-width="1.25"/></svg>
  <div class="a" style="left:514px;top:859px;font-size:11px;font-weight:normal;color:#50cd89;line-height:13px;-webkit-text-stroke:0.35px #50cd89">0.2%</div><div class="a" style="left:327px;top:746.5px;width:218px;height:1px;background:repeating-linear-gradient(90deg,#e6e7ee 0 2.4px,transparent 2.4px 3.6px)"></div><div class="a" style="left:327px;top:826px;width:218px;height:1px;background:repeating-linear-gradient(90deg,#e6e7ee 0 2.4px,transparent 2.4px 3.6px)"></div><svg class="a" style="left:332px;top:700px" width="14" height="14" viewBox="0 0 14 14"><circle cx="6.3" cy="6.3" r="4.5" fill="none" stroke="#6b6e85" stroke-width="1.6"/><path d="M9.6 9.6 L11 11" stroke="#b9bac6" stroke-width="1.2"/></svg>
<svg class="a" style="left:332px;top:779px" width="14" height="14" viewBox="0 0 14 14"><path d="M7.5 2 V9.2 a2.4 2.4 0 1 1 -2.4 -2.4" fill="none" stroke="#6b6e85" stroke-width="1.6"/><path d="M7.5 2.2 Q8.2 4.5 10.5 4.6" fill="none" stroke="#6b6e85" stroke-width="1.4"/></svg>
<svg class="a" style="left:332px;top:858px" width="14" height="14" viewBox="0 0 14 14"><rect x="1" y="3" width="12" height="9" rx="1.5" fill="#c9cad6"/><path d="M4 6 L7 8.2 L10 6" fill="none" stroke="#f3f3f7" stroke-width="1.1"/></svg><div class="a" style="left:619px;top:616px;font-size:13.3px;font-weight:bold;color:#3f4254;line-height:16px">Monthly Targets</div><div class="a" style="left:954px;top:610px;width:175px;height:28px;border-radius:5px;background:#f9fafb"></div><div class="a" style="left:965px;top:618px;font-size:10.5px;color:#65697f;line-height:13px;-webkit-text-stroke:0.4px #65697f">18 Jan 2023 - 16 Feb 2023</div><svg class="a" style="left:1098px;top:615px" width="15" height="17" viewBox="0 0 15 17"><rect x="0.8" y="2.2" width="13.4" height="14" rx="2.8" fill="#cfd0da"/><path d="M0.8 12.5 H14.2 V13.5 a2.8 2.8 0 0 1 -2.8 2.8 H3.6 a2.8 2.8 0 0 1 -2.8 -2.8Z" fill="#898ca1"/><path d="M4 0.8 V3.5 M11 0.8 V3.5" stroke="#898ca1" stroke-width="1.1"/><text x="7.5" y="10.8" font-size="6.5" font-family="Liberation Sans" font-weight="bold" fill="#5e6278" text-anchor="middle">8</text></svg><div class="a" style="left:619px;top:662px;font-size:12px;color:#b5b5c3;line-height:13px">$</div><div class="a" style="left:630px;top:656px;font-size:26px;font-weight:normal;color:#3f4254;line-height:30px;letter-spacing:0.5px;-webkit-text-stroke:0.7px #3f4254">12,706</div><div class="a" style="letter-spacing:0.2px;left:619px;top:691px;font-size:11.8px;color:#b5b5c3;line-height:14px">Targets for April</div><div class="a" style="left:757px;top:662px;font-size:12px;color:#b5b5c3;line-height:13px">$</div><div class="a" style="left:768px;top:656px;font-size:26px;font-weight:normal;color:#3f4254;line-height:30px;letter-spacing:0.5px;-webkit-text-stroke:0.7px #3f4254">8,035</div><div class="a" style="letter-spacing:0.2px;left:757px;top:691px;font-size:11.8px;color:#b5b5c3;line-height:14px">Actual for April</div><div class="a" style="left:886px;top:662px;font-size:12px;color:#b5b5c3;line-height:13px">$</div><div class="a" style="left:897px;top:656px;font-size:26px;font-weight:normal;color:#3f4254;line-height:30px;letter-spacing:0.5px;-webkit-text-stroke:0.7px #3f4254">4,684</div><div class="a" style="letter-spacing:-0.9px;left:886px;top:691px;font-size:11.8px;color:#b5b5c3;line-height:14px">GAP</div><div class="a" style="left:970px;top:663px;width:42px;height:18px;border-radius:4px;background:#e8fff3"></div>
  <svg class="a" style="left:975px;top:668px" width="7" height="8" viewBox="0 0 7 8"><path d="M3.5 7.5 V2.5" stroke="#50cd89" stroke-width="1.1"/><path d="M1.8 3.2 L3.5 0.8 L5.2 3.2Z" fill="#50cd89"/></svg>
  <div class="a" style="left:984px;top:666px;font-size:11px;font-weight:normal;color:#50cd89;line-height:13px;-webkit-text-stroke:0.35px #50cd89">4.5%</div><div class="a" style="left:730.5px;top:659px;width:1px;height:48px;background:repeating-linear-gradient(180deg,#e6e7ee 0 2.4px,transparent 2.4px 3.6px)"></div><div class="a" style="left:858.5px;top:659px;width:1px;height:48px;background:repeating-linear-gradient(180deg,#e6e7ee 0 2.4px,transparent 2.4px 3.6px)"></div><svg class="a" style="left:0;top:0" width="1200" height="900" viewBox="0 0 1200 900"><line x1="651" y1="844.2" x2="1127" y2="844.2" stroke="#e4e6ef" stroke-width="1" stroke-dasharray="3.5 3"/><line x1="651" y1="874" x2="1127" y2="874" stroke="#e4e6ef" stroke-width="1" stroke-dasharray="3.5 3"/><line x1="651" y1="903.8" x2="1127" y2="903.8" stroke="#e4e6ef" stroke-width="1" stroke-dasharray="3.5 3"/><path d="M738 910 L748.4 893.0 Q752 887 759.0 887.0 L783.0 887.0 Q790 887 793.6 893.0 L804 910Z" fill="#fde4eb"/><path d="M738 910 L748.4 893.0 Q752 887 759.0 887.0 L783.0 887.0 Q790 887 793.6 893.0 L804 910" fill="none" stroke="#f1416c" stroke-width="2.4"/><path d="M844 910 L854.4 893.0 Q858 887 865.0 887.0 L889.0 887.0 Q896 887 899.6 893.0 L910 910Z" fill="#fde4eb"/><path d="M844 910 L854.4 893.0 Q858 887 865.0 887.0 L889.0 887.0 Q896 887 899.6 893.0 L910 910" fill="none" stroke="#f1416c" stroke-width="2.4"/><path d="M1058 910 L1066.0 898.3 Q1070 892.5 1077.0 892.5 L1098.0 892.5 Q1105 892.5 1109.2 898.1 L1118 910Z" fill="#fde4eb"/><path d="M1058 910 L1066.0 898.3 Q1070 892.5 1077.0 892.5 L1098.0 892.5 Q1105 892.5 1109.2 898.1 L1118 910" fill="none" stroke="#f1416c" stroke-width="2.4"/></svg><div class="a" style="left:604px;width:40px;text-align:right;top:836.2px;font-size:10.6px;color:#a1a5b7;line-height:12px">$362</div><div class="a" style="left:604px;width:40px;text-align:right;top:866.0px;font-size:10.6px;color:#a1a5b7;line-height:12px">$357</div><div class="a" style="left:604px;width:40px;text-align:right;top:895.8px;font-size:10.6px;color:#a1a5b7;line-height:12px">$351</div>
<!--CARDS-->
</div>

</body></html>
